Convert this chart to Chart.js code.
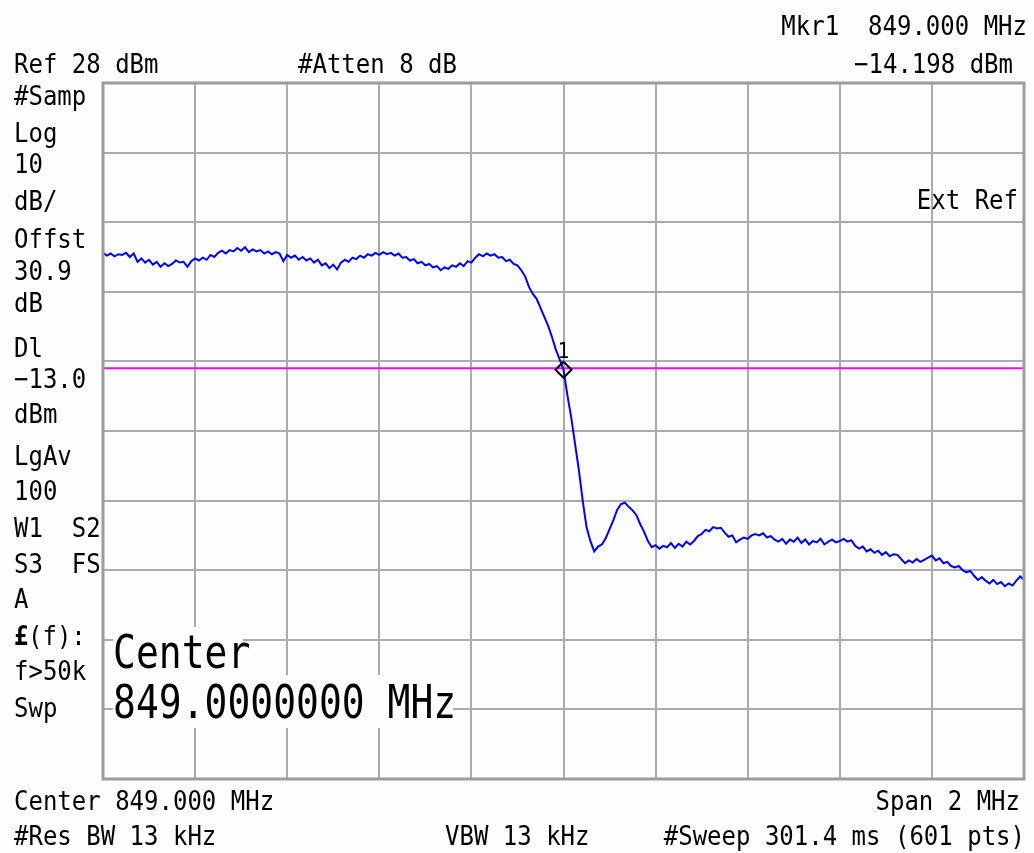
<!DOCTYPE html>
<html>
<head>
<meta charset="utf-8">
<script src="https://cdn.jsdelivr.net/npm/chart.js@4/dist/chart.umd.min.js"></script>
<style>
  html, body { margin: 0; padding: 0; background: #fdfdfd; }
  canvas { display: block; }
</style>
</head>
<body>
<canvas id="sa" width="1034" height="853"></canvas>
<script>
// sweep settings
const startFreq = 848.0;   // MHz
const stopFreq = 850.0;    // MHz
const refLevel = 28;       // dBm, top of screen
const bottomLevel = -72;   // 10 divisions of 10 dB
const displayLine = -13.0; // dBm
const markerFreq = 849.0;
const markerLevel = -13.2;

// trace, dBm, evenly spaced across the span (241 readings)
const traceLevels = [
  3.6, 3.2, 3.5, 3.1, 3.4, 3.3, 3.6, 3.0, 3.5, 2.3,
  2.8, 2.2, 2.6, 1.9, 2.3, 1.6, 2.1, 1.7, 2.0, 2.5,
  2.2, 2.3, 1.6, 2.4, 2.8, 2.5, 2.9, 2.6, 3.3, 3.0,
  3.6, 3.9, 3.5, 4.0, 3.8, 4.3, 3.9, 4.4, 3.7, 4.1,
  3.8, 4.0, 3.5, 3.8, 3.4, 3.7, 3.5, 2.4, 3.3, 2.9,
  3.2, 2.6, 3.0, 2.5, 2.8, 2.2, 2.6, 1.8, 2.1, 1.4,
  1.9, 1.2, 2.2, 2.6, 2.3, 2.9, 2.7, 3.2, 2.9, 3.4,
  3.2, 3.6, 3.3, 3.7, 3.4, 3.6, 3.2, 3.5, 2.9, 3.0,
  2.5, 2.7, 2.1, 2.3, 1.8, 2.0, 1.5, 1.7, 1.1, 1.5,
  1.3, 1.8, 1.6, 2.1, 1.7, 2.4, 2.2, 2.9, 3.4, 3.1,
  3.5, 3.2, 3.4, 2.9, 3.0, 2.4, 2.6, 2.0, 1.8, 1.1,
  0.2, -1.3, -2.3, -3.0, -4.3, -5.6, -6.9, -8.5, -10.3, -11.7,
  -13.2,
  -16.8, -20.0, -23.8, -27.6, -32.0, -35.8, -37.8, -39.3, -38.6,
  -38.3, -37.4, -36.1, -34.8, -33.3, -32.5, -32.3, -32.9, -33.4, -34.1,
  -35.4, -36.5, -37.8, -38.7, -38.4, -38.9, -38.5, -38.7, -38.1, -38.8,
  -38.2, -38.6, -37.9, -38.3, -37.8, -37.1, -36.8, -36.2, -36.4, -35.8,
  -36.0, -35.9, -36.6, -37.2, -37.0, -38.0, -37.6, -37.3, -37.5, -37.0,
  -36.8, -37.0, -36.7, -37.3, -37.1, -37.6, -37.9, -37.5, -38.2, -37.6,
  -37.9, -37.3, -38.1, -37.6, -38.3, -37.8, -38.0, -37.5, -38.3, -37.9,
  -37.6, -38.0, -37.8, -37.5, -37.9, -37.7, -38.5, -38.9, -38.6, -39.3,
  -39.0, -39.5, -39.2, -39.8, -39.4, -40.0, -39.7, -39.8, -40.4, -41.0,
  -40.6, -40.9, -40.4, -40.8, -40.5, -40.2, -39.9, -40.6, -40.3, -41.0,
  -40.8, -41.4, -41.6, -41.4, -42.0, -42.3, -42.1, -42.8, -43.4, -43.0,
  -43.5, -43.9, -43.4, -44.0, -43.7, -44.3, -43.9, -44.2, -43.5, -42.9,
  -43.4
];

// annotation text on the analyzer screen
const leftLabels = ['#Samp', 'Log', '10', 'dB/', 'Offst', '30.9', 'dB', 'Dl', '−13.0', 'dBm',
  'LgAv', '100', 'W1  S2', 'S3  FS', 'A', '£(f):', 'f>50k', 'Swp'];
const leftBaselines = [105, 142, 173, 210, 248, 280, 312, 357, 388, 423,
  465, 500, 537, 573, 608, 645, 680, 717];

const step = (stopFreq - startFreq) / (traceLevels.length - 1);
const tracePoints = traceLevels.map((v, i) => ({ x: startFreq + i * step, y: v }));

const MONO = '"DejaVu Sans Mono", "Liberation Mono", monospace';

function txt(ctx, s, x, y, align, size, stretch, bold) {
  ctx.save();
  ctx.font = (bold ? 'bold ' : '') + size + 'px ' + MONO;
  ctx.textAlign = align || 'left';
  ctx.textBaseline = 'alphabetic';
  ctx.fillStyle = '#000';
  ctx.translate(x, y);
  ctx.scale(1, stretch || 1.14);
  ctx.fillText(s, 0, 0);
  ctx.restore();
}

const screenPlugin = {
  id: 'screen',
  beforeDraw(chart) {
    const ctx = chart.ctx;
    ctx.save();
    ctx.fillStyle = '#fdfdfd';
    ctx.fillRect(0, 0, chart.width, chart.height);
    ctx.restore();
  },
  afterDraw(chart) {
    const ctx = chart.ctx;
    const a = chart.chartArea;

    // thick outer frame
    ctx.save();
    ctx.strokeStyle = '#9c9c9c';
    ctx.lineWidth = 3;
    ctx.strokeRect(a.left, a.top, a.right - a.left, a.bottom - a.top);
    ctx.restore();

    // big center readout with its own blanked background
    ctx.save();
    ctx.fillStyle = '#fdfdfd';
    ctx.fillRect(113, 627, 130, 48);
    ctx.fillRect(113, 675, 340, 53);
    ctx.restore();
    txt(ctx, 'Center', 113, 668, 'left', 38, 1.2);
    txt(ctx, '849.0000000 MHz', 113, 718, 'left', 38, 1.2);

    // marker 1 label
    const mx = chart.scales.x.getPixelForValue(markerFreq);
    const my = chart.scales.y.getPixelForValue(markerLevel);
    txt(ctx, '1', mx, my - 12, 'center', 19, 1.1);

    // header
    txt(ctx, 'Mkr1  849.000 MHz', 1027, 35, 'right', 24);
    txt(ctx, 'Ref 28 dBm', 14, 73, 'left', 24);
    txt(ctx, '#Atten 8 dB', 298, 73, 'left', 24);
    txt(ctx, '−14.198 dBm', 1013, 73, 'right', 24);
    txt(ctx, 'Ext Ref', 1018, 209, 'right', 24);

    // left column
    leftLabels.forEach((s, i) => {
      if (s.startsWith('£')) {
        txt(ctx, '£', 14, leftBaselines[i], 'left', 24, 1.14, true);
        txt(ctx, s.slice(1), 28, leftBaselines[i], 'left', 24);
      } else {
        txt(ctx, s, 14, leftBaselines[i], 'left', 24);
      }
    });

    // footer
    txt(ctx, 'Center 849.000 MHz', 14, 810, 'left', 24);
    txt(ctx, 'Span 2 MHz', 1020, 810, 'right', 24);
    txt(ctx, '#Res BW 13 kHz', 14, 845, 'left', 24);
    txt(ctx, 'VBW 13 kHz', 445, 845, 'left', 24);
    txt(ctx, '#Sweep 301.4 ms (601 pts)', 1025, 845, 'right', 24);
  }
};

const ctx = document.getElementById('sa').getContext('2d');
new Chart(ctx, {
  type: 'line',
  data: {
    datasets: [
      {
        label: 'Display line',
        data: [{ x: startFreq, y: displayLine }, { x: stopFreq, y: displayLine }],
        borderColor: '#ff00ff',
        borderWidth: 2,
        pointRadius: 0,
        order: 3
      },
      {
        label: 'Trace',
        data: tracePoints,
        borderColor: '#0000ff',
        borderWidth: 2,
        pointRadius: 0,
        tension: 0,
        order: 2
      },
      {
        label: 'Mkr1',
        data: [{ x: markerFreq, y: markerLevel }],
        showLine: false,
        pointStyle: 'rectRot',
        pointRadius: 8,
        pointBorderWidth: 2,
        pointBorderColor: '#000000',
        pointBackgroundColor: 'rgba(0,0,0,0)',
        order: 1
      }
    ]
  },
  options: {
    responsive: false,
    animation: false,
    layout: { padding: { left: 103, top: 83, right: 7, bottom: 74 } },
    plugins: {
      legend: { display: false },
      tooltip: { enabled: false }
    },
    scales: {
      x: {
        type: 'linear',
        min: startFreq,
        max: stopFreq,
        ticks: { display: false, stepSize: 0.2 },
        grid: { color: '#ababab', lineWidth: 2, drawTicks: false },
        border: { display: false }
      },
      y: {
        type: 'linear',
        min: bottomLevel,
        max: refLevel,
        ticks: { display: false, stepSize: 10 },
        grid: { color: '#ababab', lineWidth: 2, drawTicks: false },
        border: { display: false }
      }
    }
  },
  plugins: [screenPlugin]
});
</script>
</body>
</html>
